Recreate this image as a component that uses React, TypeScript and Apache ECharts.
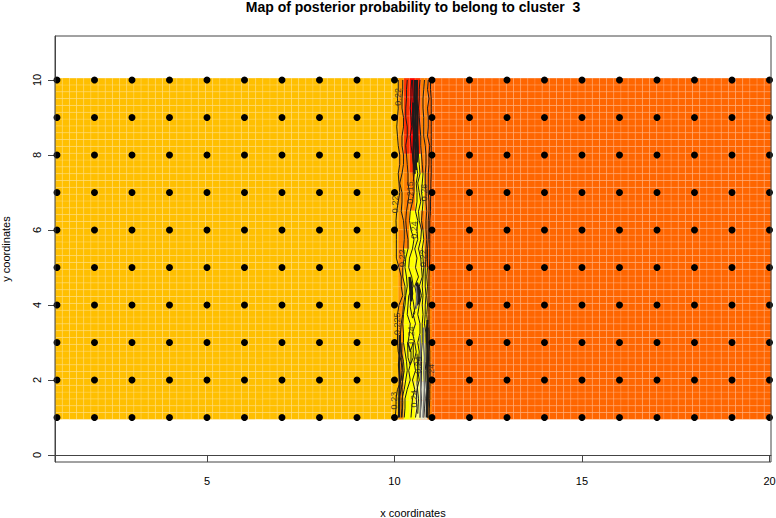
import React, { useEffect, useRef } from "react";
import * as echarts from "echarts";

const xTicks = [5, 10, 15, 20];
const yTicks = [0, 2, 4, 6, 8, 10];
const pointXs = [1, 2, 3, 4, 5, 6, 7, 8, 9, 10, 11, 12, 13, 14, 15, 16, 17, 18, 19, 20];
const pointYs = [1, 2, 3, 4, 5, 6, 7, 8, 9, 10];
const imageX = [0.95, 20.05];
const imageY = [0.95, 10.05];
const columns = 100;
const rows = 50;
const bandBreaks = [9.95, 10.1, 10.25, 10.4, 10.55, 10.7, 10.8, 10.88, 11.0];
const palette: Record<string, string> = {
  A: "#FFBF00", B: "#FF9500", F: "#FF8000", O: "#FF6600", D: "#FF3000",
  R: "#FF0000", Y: "#FFFF00", L: "#FFFF80", W: "#E8E8D0",
};
const bandRows = [
  "ABDRDFFO", "ABDRDFFO", "ABDRDFFO", "ABDRDFFO", "ABFDYFFO", "ABFFYYFO",
  "ABFFYYFO", "ABFYYFFO", "AFFYYYFO", "AFYYYYFO", "ABYYYYYF", "ABYYYYYF",
  "ABYYYYYF", "ABYYYYYF", "ABYYYLLF", "ABYYYLLF", "ABYYLWWF", "ABYYLWWF",
];
const yLevels = [10, 9.75, 9.5, 9.25, 9, 8.75, 8.5, 8.25, 8, 7.75, 7.5, 7.25, 7, 6.75, 6.5, 6.25, 6, 5.75, 5.5, 5.25, 5, 4.75, 4.5, 4.25, 4, 3.75, 3.5, 3.25, 3, 2.75, 2.5, 2.25, 2, 1.75, 1.5, 1.25, 1];
const contourXs = [
  [10.10,10.10,10.08,10.10,10.08,10.06,10.08,10.10,10.14,10.14,10.10,10.12,10.14,10.10,10.06,10.04,10.05,10.05,10.05,10.05,10.12,10.18,10.18,10.22,10.12,10.08,10.08,10.08,10.08,10.10,10.18,10.20,10.18,10.08,10.04,10.04,10.02],
  [10.22,10.22,10.20,10.20,10.24,10.24,10.20,10.20,10.24,10.24,10.20,10.14,10.20,10.20,10.18,10.24,10.26,10.26,10.24,10.26,10.22,10.22,10.28,10.28,10.24,10.22,10.18,10.16,10.16,10.18,10.24,10.26,10.22,10.18,10.12,10.12,10.10],
  [10.34,10.32,10.32,10.30,10.30,10.34,10.34,10.30,10.32,10.34,10.36,10.36,10.40,10.36,10.32,10.30,10.32,10.36,10.36,10.30,10.28,10.32,10.34,10.30,10.28,10.24,10.22,10.24,10.24,10.28,10.32,10.34,10.30,10.26,10.20,10.20,10.18],
  [10.46,10.44,10.44,10.42,10.44,10.46,10.42,10.44,10.48,10.50,10.50,10.52,10.52,10.48,10.42,10.40,10.44,10.52,10.48,10.40,10.38,10.46,10.50,10.38,10.36,10.34,10.42,10.40,10.36,10.44,10.44,10.38,10.42,10.34,10.28,10.28,10.26],
  [10.56,10.54,10.54,10.54,10.56,10.56,10.54,10.54,10.58,10.58,10.62,10.58,10.60,10.60,10.56,10.62,10.60,10.62,10.54,10.60,10.56,10.64,10.54,10.60,10.58,10.50,10.56,10.48,10.54,10.58,10.52,10.56,10.48,10.54,10.48,10.46,10.44],
  [10.60,10.60,10.60,10.60,10.62,10.62,10.62,10.62,10.64,10.66,10.68,10.62,10.66,10.70,10.64,10.66,10.72,10.70,10.64,10.70,10.72,10.74,10.66,10.72,10.66,10.62,10.68,10.68,10.62,10.66,10.64,10.62,10.66,10.60,10.58,10.60,10.56],
  [10.68,10.66,10.66,10.64,10.66,10.68,10.70,10.70,10.72,10.74,10.76,10.74,10.72,10.76,10.74,10.72,10.76,10.78,10.74,10.76,10.78,10.76,10.74,10.76,10.74,10.76,10.74,10.74,10.74,10.72,10.72,10.72,10.72,10.70,10.72,10.70,10.68],
  [10.80,10.78,10.76,10.76,10.78,10.78,10.78,10.82,10.84,10.84,10.82,10.82,10.84,10.84,10.86,10.84,10.84,10.86,10.84,10.84,10.82,10.82,10.82,10.84,10.82,10.82,10.80,10.84,10.84,10.84,10.84,10.82,10.82,10.80,10.82,10.80,10.78],
  [10.90,10.88,10.92,10.88,10.90,10.90,10.88,10.94,10.92,10.92,10.90,10.90,10.90,10.92,10.92,10.90,10.90,10.90,10.88,10.88,10.88,10.86,10.88,10.86,10.88,10.86,10.88,10.88,10.88,10.88,10.90,10.88,10.90,10.88,10.90,10.88,10.88],
  [10.96,10.96,10.98,10.98,10.98,10.98,10.98,10.98,10.98,10.98,10.98,10.97,10.97,10.96,10.96,10.94,10.94,10.94,10.94,10.94,10.93,10.92,10.92,10.92,10.92,10.92,10.92,10.93,10.93,10.94,10.94,10.95,10.95,10.94,10.94,10.93,10.92],
];
const heavyContours = [
  [[10.54,10],[10.54,9.6],[10.56,9.2],[10.55,8.8],[10.58,8.4],[10.56,8],[10.58,7.6]],
  [[10.6,10],[10.59,9.5],[10.61,9],[10.6,8.6],[10.62,8.2],[10.6,7.8]],
  [[10.5,9.4],[10.5,9],[10.52,8.5],[10.5,8],[10.54,7.5]],
  [[10.4,4.75],[10.45,4.55],[10.47,4.3],[10.44,4.1],[10.42,4.4],[10.4,4.75]],
  [[10.6,4.6],[10.66,4.4],[10.66,4.1],[10.6,4],[10.6,4.3],[10.6,4.6]],
  [[10.88,3.6],[10.86,3.2],[10.88,2.8],[10.87,2.4],[10.88,2],[10.87,1.5],[10.86,1]],
  [[10.14,3.2],[10.14,2.8],[10.12,2.4],[10.14,2],[10.13,1.6],[10.12,1]],
];
const extraContours = [
  [[10.48,10],[10.5,9.5],[10.47,9],[10.52,8.5],[10.5,8],[10.54,7.6],[10.5,7.3]],
  [[10.45,4.3],[10.5,4.1],[10.54,3.8],[10.48,3.65],[10.42,3.95],[10.45,4.3]],
  [[10.2,3],[10.19,2.6],[10.23,2.2],[10.2,1.8],[10.22,1.4],[10.2,1]],
  [[10.9,3.4],[10.9,2.8],[10.92,2.2],[10.9,1.6],[10.89,1]],
  [[10.35,3],[10.42,2.75],[10.5,3],[10.5,2.6],[10.42,2.4],[10.36,2.6],[10.35,3]],
  [[10.6,2.7],[10.62,2.3],[10.6,1.9],[10.64,1.5],[10.62,1.1]],
];
const grayContours = [
  [[10.78,3.4],[10.77,3],[10.8,2.6],[10.78,2.2],[10.8,1.8],[10.78,1.4],[10.76,1]],
  [[10.68,3.2],[10.7,2.8],[10.68,2.4],[10.7,2],[10.7,1.5],[10.68,1]],
  [[10.58,4.5],[10.6,4.2],[10.58,3.9]],
];
const contourLabels: [number, number, string][] = [
  [10.1, 9.55, "0.22"],
  [10.02, 6.75, "0.225"],
  [10.42, 7.0, "0.215"],
  [10.8, 7.0, "0.26"],
  [10.53, 6.0, "0.24"],
  [10.2, 5.25, "0.22"],
  [10.76, 5.25, "0.22"],
  [10.07, 3.5, "0.225"],
  [10.44, 3.2, "0.24"],
  [10.63, 2.4, "0.24"],
  [10.97, 2.2, "0.24"],
  [10.0, 1.45, "0.23"],
  [10.52, 1.5, "0.24"],
];

const FONT = '"Liberation Sans", Arial, sans-serif';
const GRID_LINE = "rgba(255,255,255,0.13)";

const colorKeys = Object.keys(palette);
function bgColor(i: number) {
  return palette[colorKeys[i]];
}
function cellItem(params: any, api: any) {
  const p0 = api.coord([api.value(0), api.value(3)]);
  const p1 = api.coord([api.value(1), api.value(2)]);
  return {
    type: "rect",
    shape: { x: p0[0], y: p0[1], width: p1[0] - p0[0], height: p1[1] - p0[1] },
    style: { fill: bgColor(api.value(4)), stroke: GRID_LINE, lineWidth: 1 },
    silent: true,
  };
}

export default function App() {
  const ref = useRef<HTMLDivElement>(null);
  useEffect(() => {
    const chart = echarts.init(ref.current!, undefined, { renderer: "svg" });
    const cw = (imageX[1] - imageX[0]) / columns;
    const ch = (imageY[1] - imageY[0]) / rows;
    const bgCells: number[][] = [];
    for (let i = 0; i < columns; i++) {
      const x0 = imageX[0] + i * cw;
      for (let j = 0; j < rows; j++) {
        const y0 = imageY[0] + j * ch;
        bgCells.push([x0, x0 + cw, y0, y0 + ch, colorKeys.indexOf(x0 < 10.5 ? "A" : "O")]);
      }
    }
    const bandCells: number[][] = [];
    bandRows.forEach((row, r) => {
      const yTop = imageY[1] - (r * (imageY[1] - imageY[0])) / bandRows.length;
      const yBot = imageY[1] - ((r + 1) * (imageY[1] - imageY[0])) / bandRows.length;
      row.split("").forEach((k, c) => {
        bandCells.push([bandBreaks[c], bandBreaks[c + 1], yBot, yTop, colorKeys.indexOf(k)]);
      });
    });
    const points: number[][] = [];
    pointXs.forEach((x) => pointYs.forEach((y) => points.push([x, y])));

    const lineBase = {
      type: "line" as const,
      symbol: "none",
      silent: true,
      clip: true,
      lineStyle: { color: "#1c1c1c", width: 1 },
      z: 4,
    };
    const option: any = {
      animation: false,
      backgroundColor: "#ffffff",
      title: {
        text: "Map of posterior probability to belong to cluster  3",
        left: 413,
        top: 0,
        padding: 0,
        textAlign: "center",
        textStyle: { fontFamily: FONT, fontSize: 14, fontWeight: "bold", color: "#000", lineHeight: 14 },
      },
      grid: { left: 55, right: 5, top: 36, bottom: 56, outerBoundsMode: "none", show: true, borderColor: "#444", borderWidth: 1, backgroundColor: "transparent", z: 10 },
      xAxis: {
        type: "value", min: 0.947, max: 20.04,
        name: "x coordinates", nameLocation: "middle", nameGap: 45,
        nameTextStyle: { fontFamily: FONT, fontSize: 11, color: "#000" },
        splitLine: { show: false },
        axisLine: { show: true, lineStyle: { color: "#444" } },
        axisTick: { show: true, length: 7, customValues: xTicks, lineStyle: { color: "#444" } },
        axisLabel: { customValues: xTicks, margin: 13, fontFamily: FONT, fontSize: 11, color: "#000" },
      },
      yAxis: {
        type: "value", min: -0.187, max: 11.173,
        name: "y coordinates", nameLocation: "middle", nameGap: 44,
        nameTextStyle: { fontFamily: FONT, fontSize: 11, color: "#000" },
        splitLine: { show: false },
        axisLine: { show: true, lineStyle: { color: "#444" } },
        axisTick: { show: true, length: 7, customValues: yTicks, lineStyle: { color: "#444" } },
        axisLabel: { customValues: yTicks, rotate: 90, margin: 13, fontFamily: FONT, fontSize: 11, color: "#000" },
      },
      series: [
        { type: "custom", renderItem: cellItem, data: bgCells, clip: true, silent: true, z: 1 },
        { type: "custom", renderItem: cellItem, data: bandCells, clip: true, silent: true, z: 2 },
        ...contourXs.map((xs) => ({ ...lineBase, data: xs.map((x, i) => [x, yLevels[i]]) })),
        ...extraContours.map((c) => ({ ...lineBase, data: c })),
        ...heavyContours.map((c) => ({ ...lineBase, data: c, lineStyle: { color: "#1c1c1c", width: 2.2 } })),
        ...grayContours.map((c) => ({ ...lineBase, data: c, lineStyle: { color: "#777", width: 1.5 } })),
        {
          type: "scatter",
          data: contourLabels.map((l) => ({ value: [l[0], l[1]], name: l[2] })),
          symbolSize: 0,
          silent: true,
          z: 5,
          label: { show: true, position: "inside", rotate: 90, formatter: "{b}", fontFamily: FONT, fontSize: 9, color: "#222" },
        },
        { type: "scatter", data: points, symbol: "circle", symbolSize: 7, clip: true, silent: true, itemStyle: { color: "#000", opacity: 1 }, z: 6 },
      ],
    };
    chart.setOption(option);
    return () => chart.dispose();
  }, []);
  return <div ref={ref} style={{ position: "absolute", left: 0, top: 0, width: 776, height: 518 }} />;
}
